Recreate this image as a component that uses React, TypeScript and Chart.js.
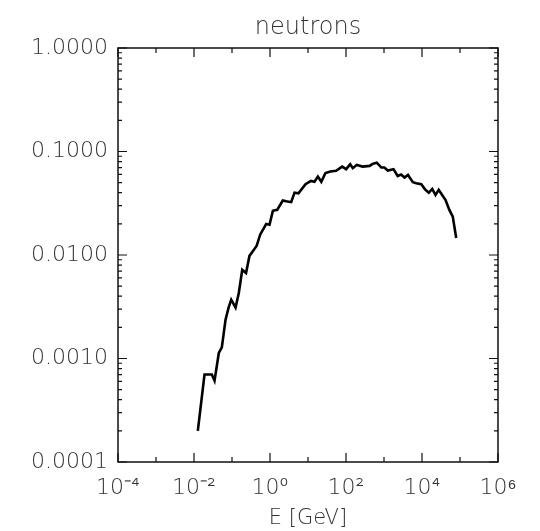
import React, { useEffect, useRef } from "react";
import { Chart, registerables } from "chart.js";

Chart.register(...registerables);

// Neutron spectrum: energy (GeV) and value
const energies: number[] = [
  0.0126, 0.0189, 0.0295, 0.0347, 0.045, 0.054, 0.0676, 0.0813, 0.0955, 0.124,
  0.151, 0.186, 0.234, 0.288, 0.389, 0.447, 0.55, 0.794, 0.97, 1.19,
  1.55, 2.17, 2.67, 3.61, 4.42, 5.62, 8.59, 12.0, 14.8, 18.2,
  22.4, 28.8, 38.9, 55.0, 79.4, 101, 129, 151, 191, 275,
  417, 501, 646, 851, 1023, 1259, 1778, 2291, 2818, 3467,
  4266, 5754, 7079, 9550, 12300, 15140, 18620, 22650, 27540, 33880,
  41690, 52480, 64570, 79430,
];
const fluxes: number[] = [
  0.0002, 0.0007, 0.0007, 0.00061, 0.00113, 0.00128, 0.00237, 0.0031, 0.0037, 0.0031,
  0.0043, 0.0072, 0.0067, 0.0098, 0.0114, 0.0123, 0.0157, 0.0199, 0.0196, 0.0267,
  0.0273, 0.0336, 0.033, 0.0324, 0.04, 0.0395, 0.0483, 0.052, 0.051, 0.0573,
  0.051, 0.062, 0.064, 0.065, 0.0715, 0.0675, 0.0753, 0.069, 0.074, 0.0715,
  0.0726, 0.076, 0.078, 0.07, 0.07, 0.0655, 0.0675, 0.058, 0.06, 0.056,
  0.0594, 0.0505, 0.0494, 0.0483, 0.0426, 0.04, 0.0435, 0.038, 0.0426, 0.038,
  0.034, 0.0273, 0.0235, 0.0146,
];

const titleText = "neutrons";
const xAxisTitle = "E [GeV]";
const xTickValues: number[] = [1e-4, 1e-2, 1e0, 1e2, 1e4, 1e6];
const xTickLabels: string[] = ["10⁻⁴", "10⁻²", "10⁰", "10²", "10⁴", "10⁶"];
const xMinorValues: number[] = [1e-3, 1e-1, 1e1, 1e3, 1e5];
const yTickValues: number[] = [1e-4, 1e-3, 1e-2, 1e-1, 1];
const yTickLabels: string[] = ["0.0001", "0.0010", "0.0100", "0.1000", "1.0000"];

const FONT = "'DejaVu Sans', 'Liberation Sans', sans-serif";
const TEXT_COLOR = "#333333";

const framePlugin = {
  id: "idlFrame",
  afterDraw(chart: any) {
    const { ctx, chartArea } = chart;
    const xs = chart.scales.x;
    const ys = chart.scales.y;
    const { left, right, top, bottom } = chartArea;
    ctx.save();
    ctx.strokeStyle = "#111111";
    ctx.lineWidth = 1.5;
    ctx.strokeRect(left, top, right - left, bottom - top);
    ctx.lineWidth = 1.2;
    ctx.beginPath();
    const xTick = (v: number, len: number) => {
      const px = xs.getPixelForValue(v);
      ctx.moveTo(px, bottom);
      ctx.lineTo(px, bottom - len);
      ctx.moveTo(px, top);
      ctx.lineTo(px, top + len);
    };
    xTickValues.forEach((v) => xTick(v, 9));
    xMinorValues.forEach((v) => xTick(v, 5));
    const yTick = (v: number, len: number) => {
      const py = ys.getPixelForValue(v);
      ctx.moveTo(left, py);
      ctx.lineTo(left + len, py);
      ctx.moveTo(right, py);
      ctx.lineTo(right - len, py);
    };
    for (let d = -4; d <= 0; d++) {
      yTick(Math.pow(10, d), 9);
      if (d < 0) {
        for (let k = 2; k <= 9; k++) yTick(k * Math.pow(10, d), 4);
      }
    }
    ctx.stroke();
    ctx.restore();
  },
};

export default function App() {
  const canvasRef = useRef<HTMLCanvasElement | null>(null);

  useEffect(() => {
    document.body.style.margin = "0";
    const canvas = canvasRef.current;
    if (!canvas) return;
    const points = energies.map((e, i) => ({ x: e, y: fluxes[i] }));
    const chart = new Chart(canvas, {
      type: "line",
      data: {
        datasets: [
          {
            data: points,
            borderColor: "#000000",
            borderWidth: 2.6,
            pointRadius: 0,
            tension: 0,
            fill: false,
          },
        ],
      },
      options: {
        animation: false,
        responsive: false,
        devicePixelRatio: 1,
        layout: { padding: { left: 0, right: 42, top: 0, bottom: 0 } },
        plugins: {
          legend: { display: false },
          tooltip: { enabled: false },
          title: {
            display: true,
            text: titleText,
            fullSize: false,
            color: TEXT_COLOR,
            font: { family: FONT, size: 24, weight: "200" as any },
            padding: { top: 13, bottom: 6.2 },
          },
        },
        scales: {
          x: {
            type: "logarithmic",
            min: 1e-4,
            max: 1e6,
            grid: { display: false, drawTicks: false },
            border: { display: false },
            afterBuildTicks: (scale: any) => {
              scale.ticks = xTickValues.map((v) => ({ value: v, major: true }));
            },
            afterFit: (scale: any) => {
              scale.height = 69;
            },
            ticks: {
              autoSkip: false,
              maxRotation: 0,
              minRotation: 0,
              padding: 13,
              color: TEXT_COLOR,
              font: { family: FONT, size: 22, weight: "200" as any },
              callback: (value: any) => {
                const i = xTickValues.findIndex((v) => Math.abs(Math.log10(v) - Math.log10(Number(value))) < 1e-6);
                return i >= 0 ? xTickLabels[i] : "";
              },
            },
            title: {
              display: true,
              text: xAxisTitle,
              color: TEXT_COLOR,
              font: { family: FONT, size: 21, weight: "200" as any },
              padding: { top: 0, bottom: 0 },
            },
          },
          y: {
            type: "logarithmic",
            min: 1e-4,
            max: 1,
            grid: { display: false, drawTicks: false },
            border: { display: false },
            afterBuildTicks: (scale: any) => {
              scale.ticks = yTickValues.map((v) => ({ value: v, major: true }));
            },
            afterFit: (scale: any) => {
              scale.width = 118;
            },
            ticks: {
              autoSkip: false,
              padding: 10,
              color: TEXT_COLOR,
              font: { family: FONT, size: 22, weight: "200" as any },
              callback: (value: any) => {
                const i = yTickValues.findIndex((v) => Math.abs(Math.log10(v) - Math.log10(Number(value))) < 1e-6);
                return i >= 0 ? yTickLabels[i] : "";
              },
            },
          },
        },
      },
      plugins: [framePlugin],
    });
    return () => {
      chart.destroy();
    };
  }, []);

  return (
    <div style={{ width: 540, height: 531, background: "#ffffff" }}>
      <canvas ref={canvasRef} width={540} height={531} style={{ width: 540, height: 531, display: "block" }} />
    </div>
  );
}
